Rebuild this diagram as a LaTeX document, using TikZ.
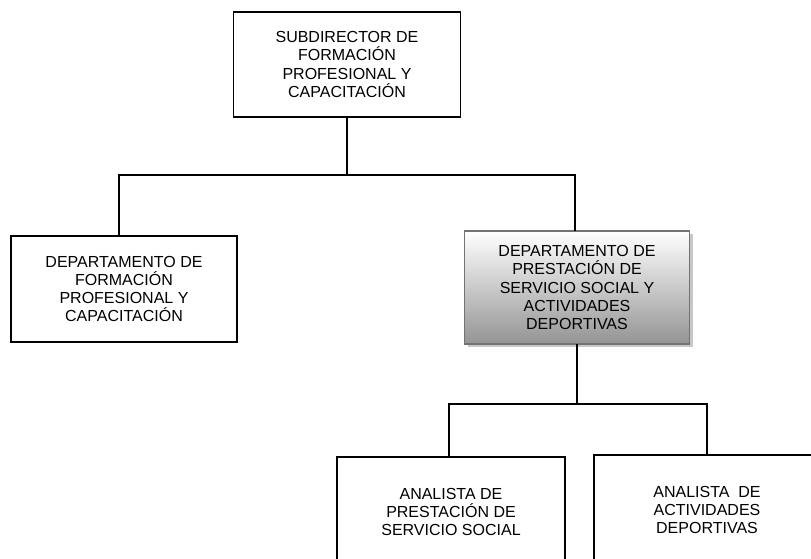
\documentclass[tikz,border=0pt]{standalone}
\usepackage{fontspec}
\setmainfont{Liberation Sans}
\usetikzlibrary{shadows}
\begin{document}
\begin{tikzpicture}[x=1pt,y=1pt,
  orgbox/.style={draw=black, line width=1.5pt, align=center, inner sep=0pt,
    font=\fontsize{16}{18.3}\selectfont},
  shadedbox/.style={orgbox, draw=black!55, top color=white, bottom color=black!42,
    drop shadow={shadow xshift=3pt, shadow yshift=-3pt, fill=black!22, opacity=1}},
  link/.style={line width=1.5pt, line cap=rect}]
\clip (0,0) rectangle (811,559);
\useasboundingbox (0,0) rectangle (811,559);

\node[orgbox, minimum width=227pt, minimum height=105pt] (top) at (347,494.5)
  {SUBDIRECTOR DE\\FORMACIÓN\\PROFESIONAL Y\\CAPACITACIÓN};
\node[orgbox, minimum width=226pt, minimum height=106pt] (left) at (124,270)
  {DEPARTAMENTO DE\\FORMACIÓN\\PROFESIONAL Y\\CAPACITACIÓN};
\node[shadedbox, minimum width=225pt, minimum height=113pt] (right) at (577,271.5)
  {DEPARTAMENTO DE\\PRESTACIÓN DE\\SERVICIO SOCIAL Y\\ACTIVIDADES\\DEPORTIVAS};
\node[orgbox, minimum width=228pt, minimum height=110pt] (an1) at (451,47)
  {ANALISTA DE\\PRESTACIÓN DE\\SERVICIO SOCIAL};
\node[orgbox, minimum width=226pt, minimum height=110pt] (an2) at (707,49)
  {ANALISTA~ DE\\ACTIVIDADES\\DEPORTIVAS};

\coordinate (hL) at (119,384);
\coordinate (hR) at (575,384);
\coordinate (bL) at (449,155);
\coordinate (bR) at (707,155);

\draw[link] (top.south) -- (top.south |- hL);
\draw[link] (hL) -- (hR);
\draw[link] (hL) -- (hL |- left.north);
\draw[link] (hR) -- (hR |- right.north);
\draw[link] (right.south) -- (right.south |- bL);
\draw[link] (bL) -- (bR);
\draw[link] (bL) -- (bL |- an1.north);
\draw[link] (bR) -- (bR |- an2.north);
\end{tikzpicture}
\end{document}
